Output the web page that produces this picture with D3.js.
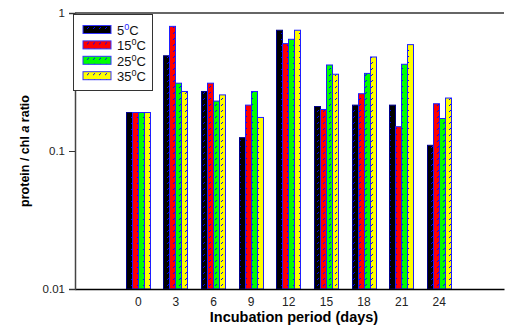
<!DOCTYPE html>
<html>
<head>
<meta charset="utf-8">
<script src="https://cdn.jsdelivr.net/npm/d3@7"></script>
<style>
  body { margin: 0; background: #fff; }
  svg { display: block; font-family: "Liberation Sans", Arial, sans-serif; }
</style>
</head>
<body>
<div id="chart"></div>
<script>
// incubation days on x, one group per day
var days = [0, 3, 6, 9, 12, 15, 18, 21, 24];
var seriesNames = ["5", "15", "25", "35"];
var t5  = [0.19, 0.49, 0.27, 0.125, 0.75, 0.21, 0.215, 0.215, 0.11];
var t15 = [0.19, 0.80, 0.31, 0.215, 0.60, 0.20, 0.26, 0.15, 0.22];
var t25 = [0.19, 0.31, 0.23, 0.27, 0.645, 0.42, 0.365, 0.425, 0.172];
var t35 = [0.19, 0.27, 0.255, 0.175, 0.75, 0.36, 0.48, 0.59, 0.242];
var yTicks = [0.01, 0.1, 1];
var yTickLabels = ["0.01", "0.1", "1"];

var series = [t5, t15, t25, t35];
var colors = ["#000000", "#ff0000", "#00ff00", "#ffff00"];

var W = 505, H = 326;
var margin = { top: 13, right: 1, bottom: 37, left: 75 };
var width = W - margin.left - margin.right,
    height = H - margin.top - margin.bottom;

var svg = d3.select("#chart").append("svg")
    .attr("width", W)
    .attr("height", H);

// dotted fill patterns
var defs = svg.append("defs");
colors.forEach(function(c, i) {
  var p = defs.append("pattern")
      .attr("id", "pat" + i)
      .attr("patternUnits", "userSpaceOnUse")
      .attr("width", 6).attr("height", 6);
  p.append("rect").attr("width", 6).attr("height", 6).attr("fill", c);
  p.append("rect").attr("x", 3).attr("y", 1).attr("width", 1).attr("height", 1).attr("fill", "#0000ff");
  p.append("rect").attr("x", 2).attr("y", 2).attr("width", 1).attr("height", 1).attr("fill", "#0000ff");
});

var g = svg.append("g")
    .attr("transform", "translate(" + margin.left + "," + margin.top + ")");

var x = d3.scaleLinear().domain([-5, 29.2]).range([0, width]);
var y = d3.scaleLog().domain([0.01, 1]).range([height, 0]);

var barW = 6;

// bars
series.forEach(function(vals, si) {
  g.selectAll(".bar" + si)
    .data(vals)
    .enter()
    .append("rect")
    .attr("class", "bar" + si)
    .attr("x", function(d, i) { return Math.round(x(days[i]) - 2 * barW + si * barW) + 0.5; })
    .attr("width", barW)
    .attr("y", function(d) { return y(d); })
    .attr("height", function(d) { return height - y(d); })
    .attr("fill", "url(#pat" + si + ")")
    .attr("stroke", si == 0 ? "#00008b" : "#1f1fff")
    .attr("stroke-width", 1);
});

// top frame line
g.append("line").attr("x1", 0).attr("x2", width).attr("y1", 0).attr("y2", 0)
  .attr("stroke", "#333").attr("stroke-width", 1.5);

g.append("g")
  .attr("transform", "translate(0," + height + ")")
  .call(d3.axisBottom(x).tickValues(days).tickSize(0).tickPadding(8).tickFormat(d3.format("d")))
  .call(function(a) {
    a.select(".domain").attr("stroke", "#000").attr("stroke-width", 1.5);
    a.selectAll("text").attr("font-size", 12).attr("fill", "#222")
      .attr("font-family", "Liberation Sans, Arial, sans-serif");
  });

g.append("g")
  .call(d3.axisLeft(y).tickValues(yTicks).tickSize(6).tickPadding(4)
    .tickFormat(function(d, i) { return yTickLabels[i]; }))
  .call(function(a) {
    a.select(".domain").attr("stroke", "#444").attr("stroke-width", 1.5);
    a.selectAll("line").attr("stroke", "#333");
    a.selectAll("text").attr("font-size", 11.5).attr("fill", "#222")
      .attr("font-family", "Liberation Sans, Arial, sans-serif");
  });

// axis titles
svg.append("text")
  .attr("x", 294).attr("y", 322)
  .attr("text-anchor", "middle")
  .attr("font-size", 14.5).attr("font-weight", "bold")
  .text("Incubation period (days)");

var yt = svg.append("text")
  .attr("transform", "translate(29,151) rotate(-90)")
  .attr("text-anchor", "middle")
  .attr("font-size", 12.5).attr("font-weight", "bold");
yt.append("tspan").text("protein / chl ");
yt.append("tspan").attr("font-style", "italic").text("a");
yt.append("tspan").text(" ratio");

// legend
var lg = svg.append("g").attr("transform", "translate(73,14)");
lg.append("rect").attr("x", 0.5).attr("y", 0.5).attr("width", 79).attr("height", 76)
  .attr("fill", "#fff").attr("stroke", "#333").attr("stroke-width", 1);
seriesNames.forEach(function(n, i) {
  var row = lg.append("g").attr("transform", "translate(0," + (15.4 * i) + ")");
  row.append("rect")
    .attr("x", 10).attr("y", 11.5).attr("width", 28).attr("height", 8)
    .attr("fill", "url(#pat" + i + ")")
    .attr("stroke", "#3333ff").attr("stroke-width", 1);
  var t = row.append("text").attr("x", 44).attr("y", 21).attr("font-size", 13).attr("fill", "#111");
  t.append("tspan").text(n);
  t.append("tspan").attr("dy", -5).attr("font-size", 9)
    .attr("fill", i == 0 ? "#2222ff" : "#111").text("0");
  t.append("tspan").attr("dy", 5).text("C");
});
</script>
</body>
</html>
